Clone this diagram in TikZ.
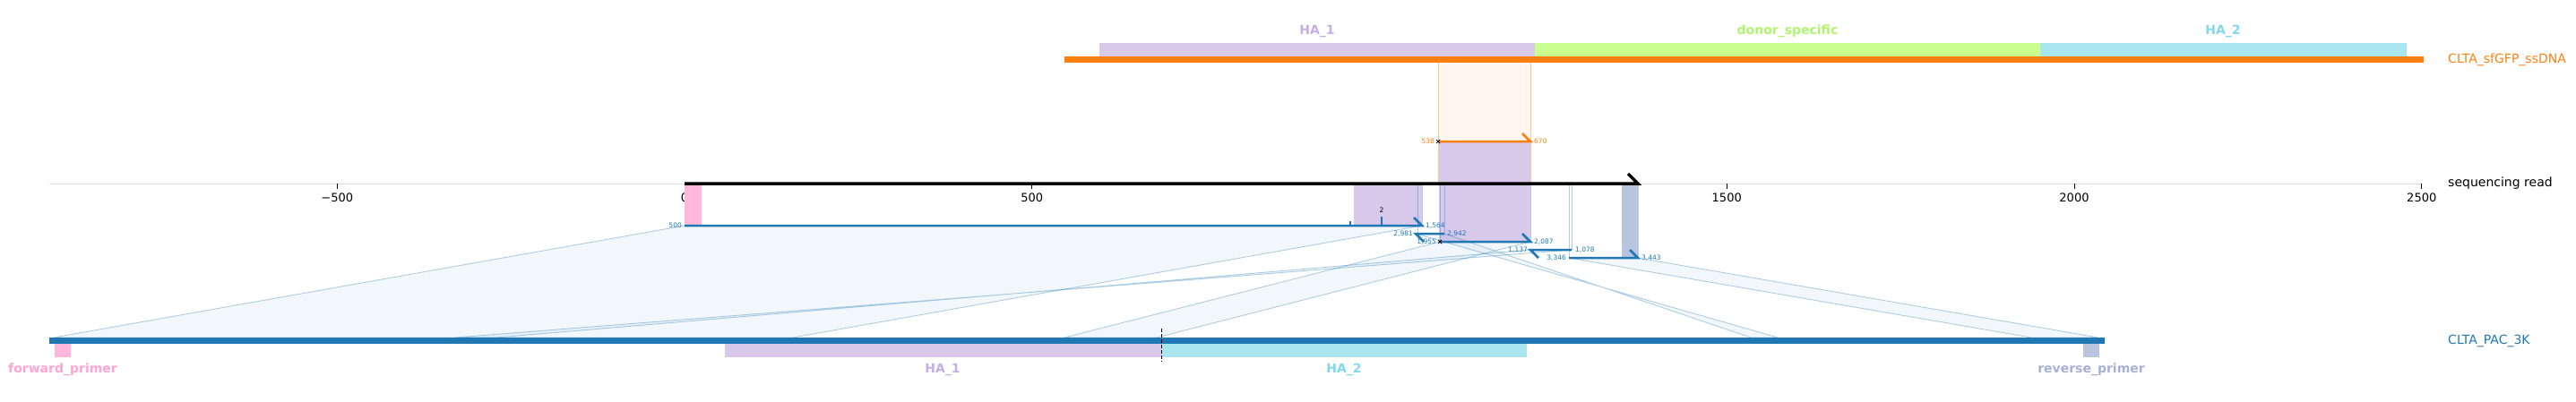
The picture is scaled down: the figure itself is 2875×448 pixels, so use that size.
\documentclass[tikz,border=0pt]{standalone}
\usepackage{fontspec}
\setmainfont{DejaVu Sans}
\usepackage{tikz}
\usetikzlibrary{positioning}
\definecolor{tabblue}{RGB}{31,119,180}
\definecolor{taborange}{RGB}{255,127,14}
\definecolor{halav}{RGB}{216,200,234}
\definecolor{halavtext}{RGB}{196,174,228}
\definecolor{donorgreen}{RGB}{200,255,142}
\definecolor{donortext}{RGB}{176,244,112}
\definecolor{hacyan}{RGB}{170,230,240}
\definecolor{hacyantext}{RGB}{128,216,234}
\definecolor{primpink}{RGB}{255,184,220}
\definecolor{pinktext}{RGB}{255,164,208}
\definecolor{primslate}{RGB}{185,196,222}
\definecolor{slatetext}{RGB}{164,176,212}
\definecolor{axisgray}{RGB}{221,221,221}
\definecolor{paleorange}{RGB}{255,246,239}
\definecolor{edgeorange}{RGB}{255,196,150}
\tikzstyle{featlabel} = [font=\fontsize{14}{16}\selectfont\bfseries, inner sep=0pt]
\tikzstyle{trackname} = [font=\fontsize{14}{16}\selectfont, anchor=west, inner sep=0pt]
\tikzstyle{ticklabel} = [font=\fontsize{13}{15}\selectfont, inner sep=0pt]
\tikzstyle{poslabel} = [font=\fontsize{7.5}{9}\selectfont, inner sep=0pt, text=tabblue]
\tikzstyle{seg} = [draw=tabblue, line width=2.5pt, line cap=butt, line join=miter]
\tikzstyle{band} = [fill=tabblue, fill opacity=0.06, draw=tabblue, draw opacity=0.35, line width=0.9pt]
\tikzstyle{proj} = [draw=tabblue, draw opacity=0.35, line width=0.9pt]

\begin{document}
\begin{tikzpicture}[x=1pt, y=-1pt]
\useasboundingbox (0,0) rectangle (2875,448);

% donor track
\fill[halav] (1227,48) rectangle (1713,63);
\fill[donorgreen] (1713,48) rectangle (2277,63);
\fill[hacyan] (2277,48) rectangle (2686,63);
\node[featlabel, text=halavtext] (ha1top) at (1470,35) {HA\_1};
\node[featlabel, text=donortext] (donortop) at (1995,35) {donor\_specific};
\node[featlabel, text=hacyantext] (ha2top) at (2481,35) {HA\_2};
\draw[taborange, line width=7pt] (1188,66.5) -- (2705,66.5);
\node[trackname, text=taborange] (ssdna) at (2732,66.5) {CLTA\_sfGFP\_ssDNA};

% projection of the donor hit onto the read
\fill[paleorange] (1605,70) rectangle (1708,158);
\fill[halav] (1605,158) rectangle (1708,205);
\draw[edgeorange, line width=0.9pt] (1605,70) -- (1605,205) (1708,70) -- (1708,205);

% axis
\draw[axisgray, line width=1pt] (55,205) -- (2703,205);
\foreach \v/\t in {-500/−500, 0/0, 500/500, 1000/1000, 1500/1500, 2000/2000, 2500/2500} {
  \pgfmathsetmacro\tx{764+0.7755*\v}
  \draw[black, line width=0.9pt] (\tx,205) -- (\tx,211);
  \node[ticklabel] (tick\v) at (\tx,221) {\t};
}

% features seen on the read
\fill[primpink] (764,207) rectangle (783,252);
\fill[halav] (1511,207) rectangle (1587,252);
\fill[halav] (1606,207) rectangle (1708,270);
\fill[primslate] (1810,207) rectangle (1828,288);

% bands to the amplicon
\draw[band] (764,252) -- (1587,252) -- (885,377) -- (60,377) -- cycle;
\draw[band] (1580,261) -- (1612,261) -- (1954,377) -- (1984,377) -- cycle;
\draw[band] (1607,270) -- (1708,270) -- (1291,377) -- (1188,377) -- cycle;
\draw[band] (1708,279) -- (1754,279) -- (508,377) -- (554,377) -- cycle;
\draw[band] (1751,288) -- (1828,288) -- (2342,377) -- (2267,377) -- cycle;
\draw[proj] (1587,207) -- (1587,252);
\draw[proj] (1582,207) -- (1582,261) (1612,207) -- (1612,261);
\draw[proj] (1607,207) -- (1607,270) (1708,207) -- (1708,270);
\draw[proj] (1754,207) -- (1754,279);
\draw[proj] (1751,207) -- (1751,288) (1828,207) -- (1828,288);

% read
\draw[black, line width=3.5pt, line join=miter] (764,205) -- (1828,205) -- (1817,194);
\node[trackname, text=black] (readname) at (2732,205) {sequencing read};

% hit on the donor
\draw[taborange, line width=2.5pt, line join=miter] (1605,158) -- (1708,158) -- (1699,149);
\draw[black, line width=1pt] (1603,156) -- (1607,160) (1603,160) -- (1607,156);
\node[poslabel, text=taborange, anchor=east] (d538) at (1601,158) {538};
\node[poslabel, text=taborange, anchor=west] (d670) at (1712,158) {670};

% hits on the amplicon
\draw[seg] (764,252) -- (1587,252) -- (1578,243);
\draw[tabblue, line width=1.2pt] (1507,247) -- (1507,252);
\draw[tabblue, line width=2.5pt] (1542,242) -- (1542,252);
\node[poslabel, text=black] (ins2) at (1542,235) {2};
\node[poslabel, anchor=east] (h1a) at (761,252) {500};
\node[poslabel, anchor=west] (h1b) at (1591,252) {1,564};

\draw[seg] (1612,261) -- (1580,261) -- (1589,270);
\node[poslabel, anchor=east] (h2a) at (1577,261) {2,981};
\node[poslabel, anchor=west] (h2b) at (1615,261) {2,942};

\draw[seg] (1607,270) -- (1708,270) -- (1699,261);
\draw[black, line width=1pt] (1605,268) -- (1609,272) (1605,272) -- (1609,268);
\node[poslabel, anchor=east] (h3a) at (1603,270) {1,955};
\node[poslabel, anchor=west] (h3b) at (1712,270) {2,087};

\draw[seg] (1754,279) -- (1708,279) -- (1717,288);
\node[poslabel, anchor=east] (h4a) at (1705,279) {1,137};
\node[poslabel, anchor=west] (h4b) at (1758,279) {1,078};

\draw[seg] (1751,288) -- (1828,288) -- (1819,279);
\node[poslabel, anchor=east] (h5a) at (1748,288) {3,346};
\node[poslabel, anchor=west] (h5b) at (1832,288) {3,443};

% amplicon track
\fill[primpink] (61,384) rectangle (79,399);
\fill[halav] (809,384) rectangle (1296,399);
\fill[hacyan] (1296,384) rectangle (1704,399);
\fill[primslate] (2325,384) rectangle (2343,399);
\draw[tabblue, line width=7pt] (55,380.5) -- (2349,380.5);
\draw[black, line width=1pt, dash pattern=on 4pt off 2pt] (1296,367) -- (1296,404);
\node[featlabel, text=pinktext] (fwd) at (70,413) {forward\_primer};
\node[featlabel, text=halavtext] (ha1bot) at (1052,413) {HA\_1};
\node[featlabel, text=hacyantext] (ha2bot) at (1500,413) {HA\_2};
\node[featlabel, text=slatetext] (rev) at (2334,413) {reverse\_primer};
\node[trackname, text=tabblue] (pac) at (2732,380.5) {CLTA\_PAC\_3K};
\end{tikzpicture}
\end{document}
